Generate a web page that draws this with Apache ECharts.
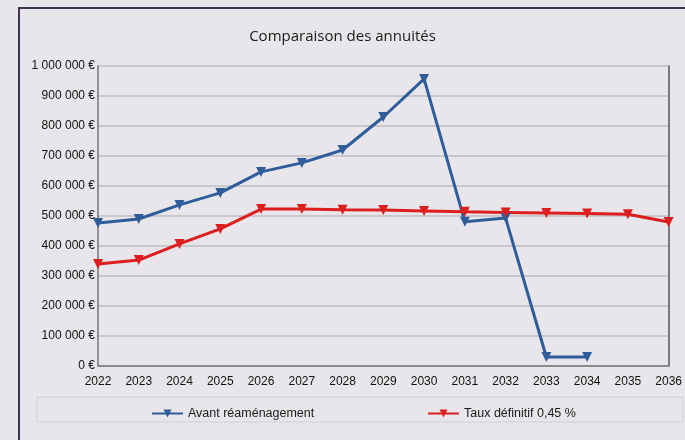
<!DOCTYPE html>
<html>
<head>
<meta charset="utf-8">
<script src="https://cdn.jsdelivr.net/npm/echarts@6/dist/echarts.min.js"></script>
<style>
html,body{margin:0;padding:0;background:#e8e6ea;}
#chart{width:685px;height:440px;}
</style>
</head>
<body>
<div id="chart"></div>
<script>
var annees = ['2022','2023','2024','2025','2026','2027','2028','2029','2030','2031','2032','2033','2034','2035','2036'];
// annuités avant réaménagement
var avant = [477000, 490000, 537000, 577000, 647000, 677000, 720000, 830000, 957000, 481000, 493000, 30000, 30000, null, null];
// annuités au taux définitif
var taux = [340000, 353000, 407000, 457000, 523000, 523000, 521000, 520000, 517000, 514000, 512000, 510000, 508000, 506000, 480000];

function euro(v) {
	return String(v).replace(/\B(?=(\d{3})+(?!\d))/g, ' ') + ' €';
}

var myChart = echarts.init(document.getElementById('chart'));
var option = {
	backgroundColor: '#e8e6ea',
	animation: false,
	title: {
		text: 'Comparaison des annuités',
		left: 'center',
		top: 24,
		textStyle: {
			fontFamily: 'Open Sans',
			fontSize: 15,
			fontWeight: 'normal',
			color: '#1a1a1a'
		}
	},
	graphic: [
		{
			type: 'rect',
			shape: {x: 19, y: 8, width: 720, height: 480},
			style: {fill: 'none', stroke: '#3d3450', lineWidth: 2}
		},
		{
			type: 'rect',
			shape: {x: 37, y: 397, width: 646, height: 25},
			style: {fill: '#e8e6ea', stroke: '#d0ced2', lineWidth: 1}
		}
	],
	legend: [
		{
			data: ['Avant réaménagement'],
			left: 146, top: 402,
			itemWidth: 31, itemHeight: 10, itemGap: 5,
			textStyle: {fontFamily: 'Liberation Sans', fontSize: 12.5, color: '#1a1a1a'}
		},
		{
			data: ['Taux définitif 0,45 %'],
			left: 422, top: 402,
			itemWidth: 31, itemHeight: 10,
			textStyle: {fontFamily: 'Liberation Sans', fontSize: 12.5, color: '#1a1a1a'}
		}
	],
	grid: {
		left: 98,
		right: 13,
		top: 66,
		bottom: 74
	},
	xAxis: {
		type: 'category',
		data: annees,
		boundaryGap: false,
		axisLine: {lineStyle: {color: '#777', width: 1.5}},
		axisTick: {show: false},
		axisLabel: {
			fontFamily: 'Liberation Sans',
			fontSize: 12,
			color: '#111',
			margin: 10,
			interval: 0
		}
	},
	yAxis: [
		{
			type: 'value',
			min: 0,
			max: 1000000,
			interval: 100000,
			axisLine: {show: true, lineStyle: {color: '#777', width: 1.5}},
			axisTick: {show: false},
			axisLabel: {
				fontFamily: 'Liberation Sans',
				fontSize: 12,
				color: '#111',
				margin: 3,
				formatter: euro
			},
			splitLine: {lineStyle: {color: '#c9c7cc', width: 2}}
		},
		{
			type: 'value',
			min: 0,
			max: 1000000,
			interval: 100000,
			position: 'right',
			axisLine: {show: true, lineStyle: {color: '#555', width: 1.5}},
			axisTick: {show: false},
			axisLabel: {show: false},
			splitLine: {show: false}
		}
	],
	series: [
		{
			name: 'Avant réaménagement',
			type: 'line',
			data: avant,
			symbol: 'triangle',
			symbolRotate: 180,
			symbolSize: 10,
			showAllSymbol: true,
			lineStyle: {color: '#2f5d9b', width: 3},
			itemStyle: {color: '#2f5d9b'}
		},
		{
			name: 'Taux définitif 0,45 %',
			type: 'line',
			data: taux,
			symbol: 'triangle',
			symbolRotate: 180,
			symbolSize: 10,
			showAllSymbol: true,
			lineStyle: {color: '#dc1e1e', width: 3},
			itemStyle: {color: '#dc1e1e'}
		}
	]
};
myChart.setOption(option);
</script>
</body>
</html>
